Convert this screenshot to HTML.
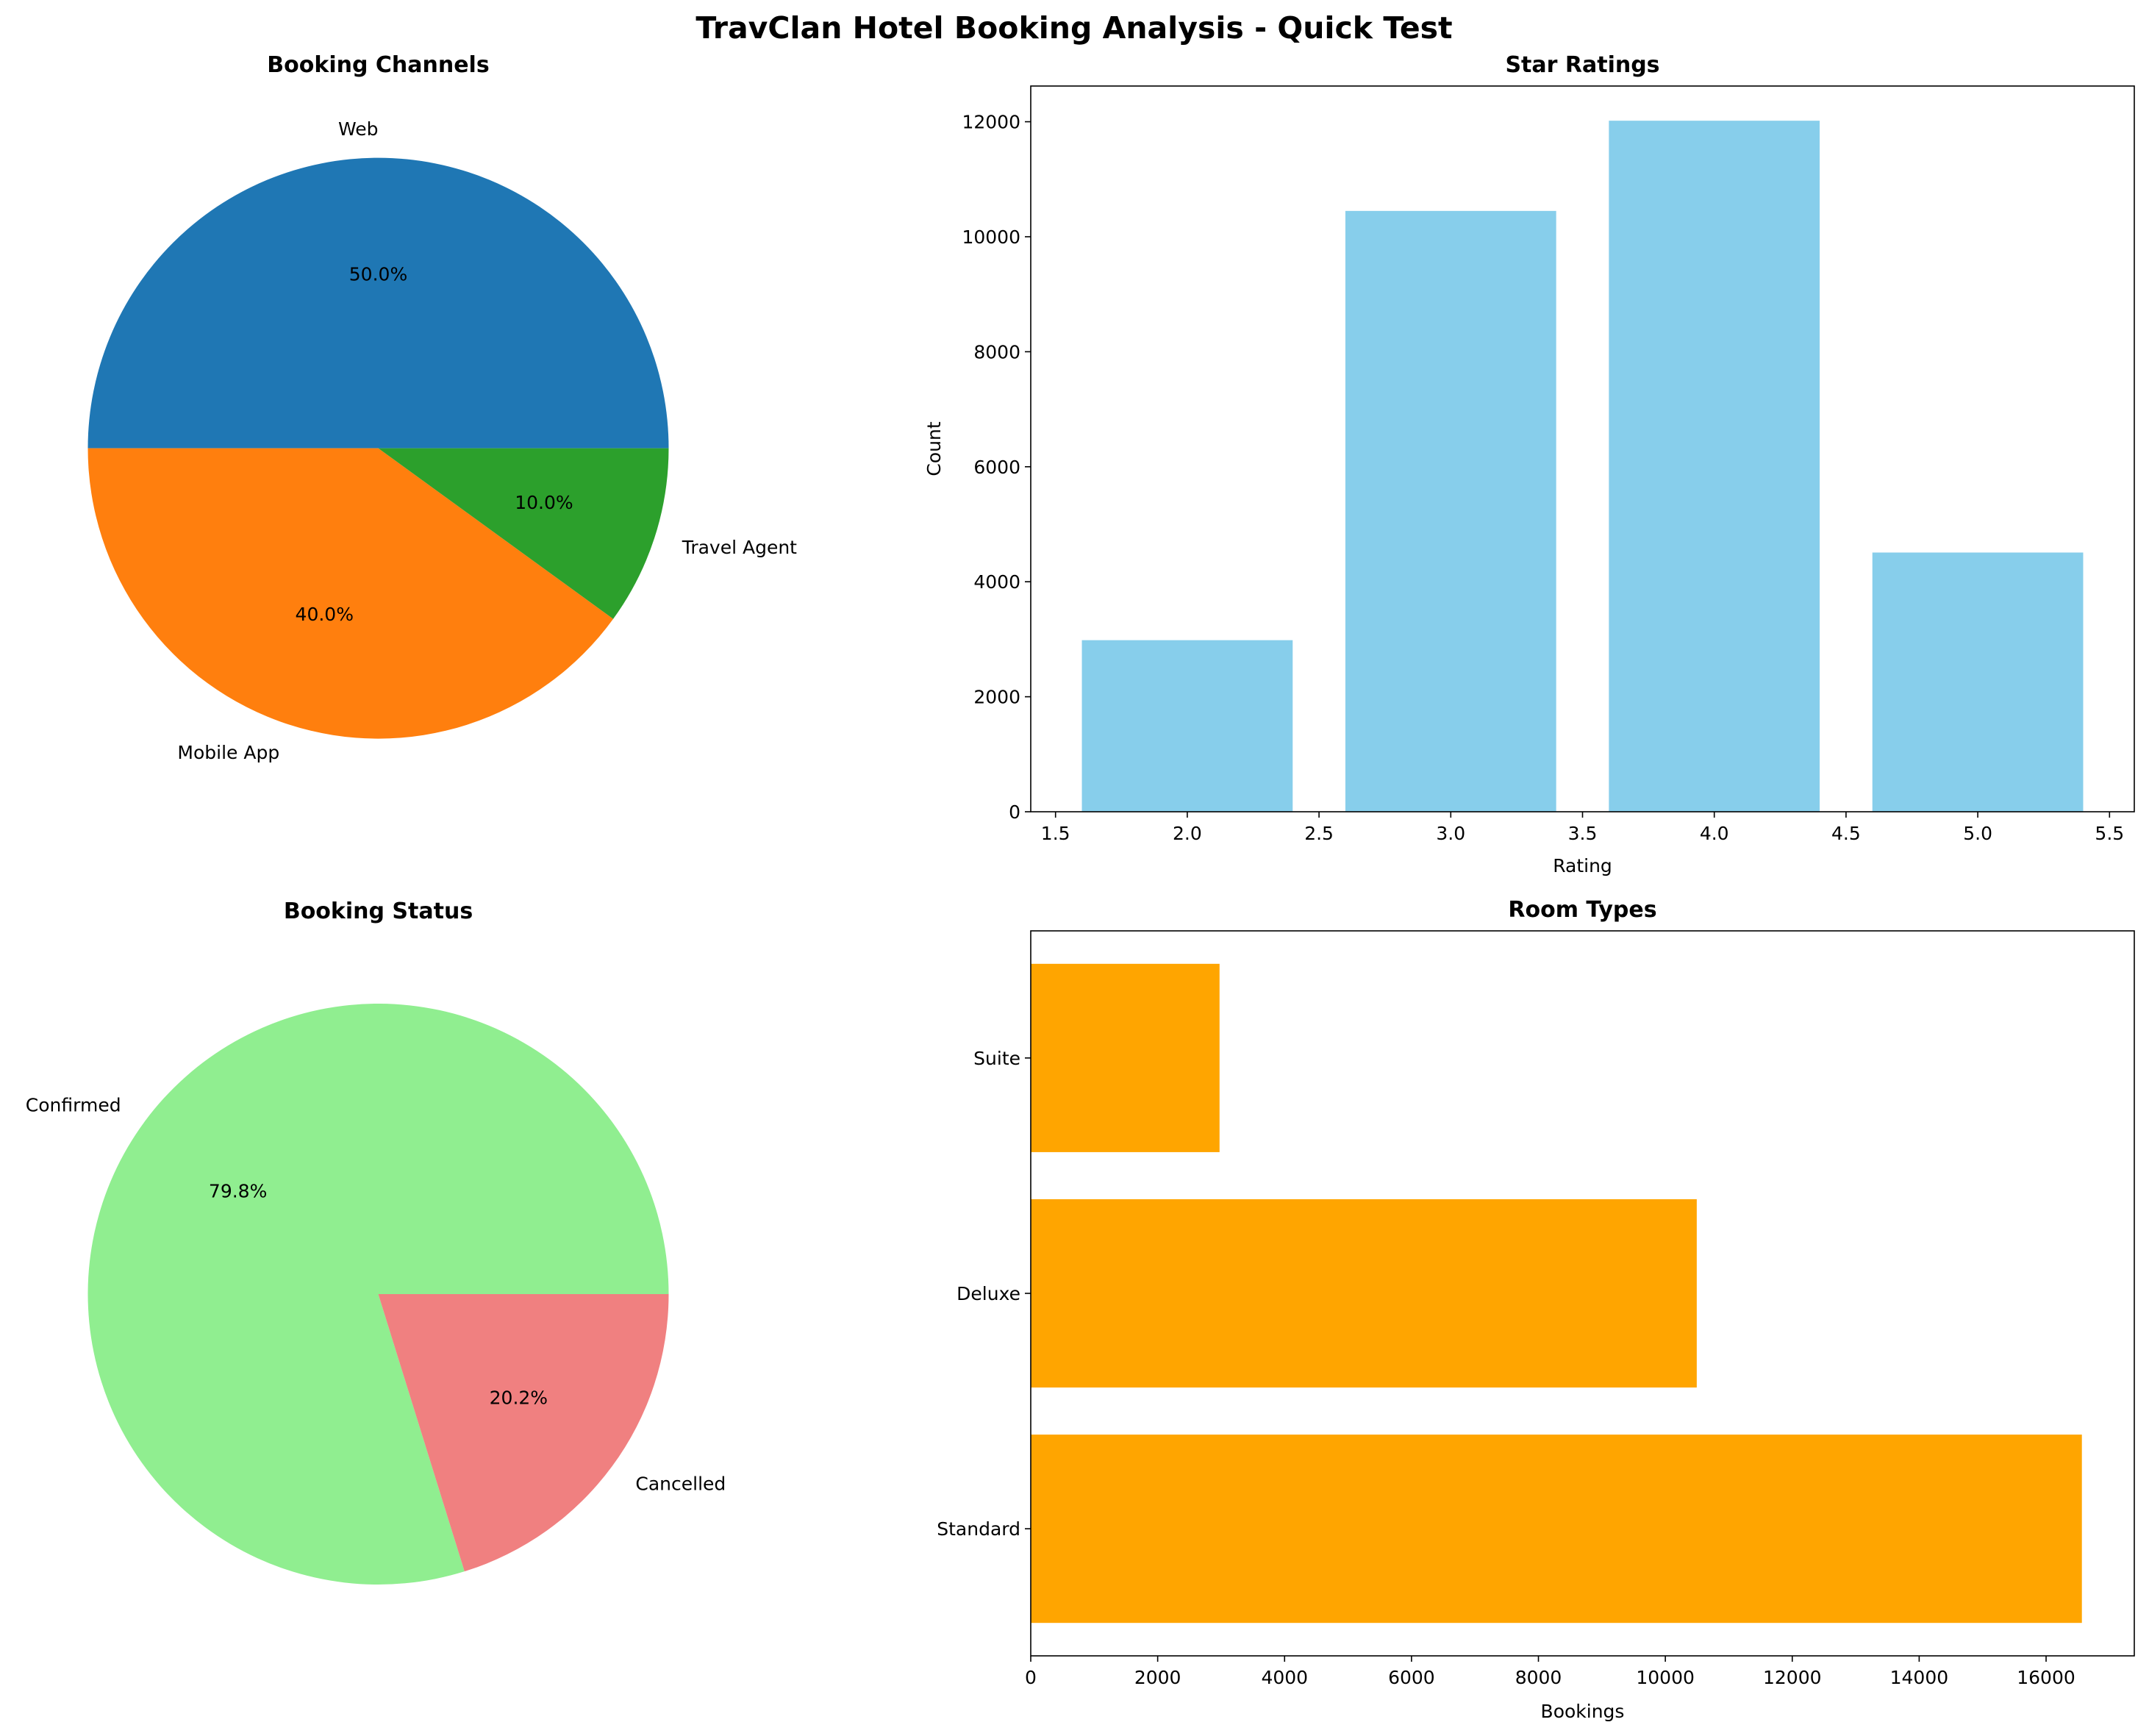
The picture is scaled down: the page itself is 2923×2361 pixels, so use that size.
<!DOCTYPE html>
<html><head><meta charset="utf-8"><style>
html,body{margin:0;padding:0;background:#fff}
svg{display:block;font-family:"DejaVu Sans","Liberation Sans",sans-serif}
</style></head><body>
<svg id="fig" width="2923" height="2361" viewBox="0 0 2923 2361">
<rect width="2923" height="2361" fill="#fff"/>
<text x="1461" y="52" text-anchor="middle" font-size="41" font-weight="bold">TravClan Hotel Booking Analysis - Quick Test</text>
<g id="pie1"></g>
<g id="pie2"></g>
<g id="bars1"></g>
<g id="bars2"></g>
</svg>
<script>
const channelLabels = ["Web", "Mobile App", "Travel Agent"];
const channelValues = [50, 40, 10];
const channelColors = ["#1f77b4", "#ff7f0e", "#2ca02c"];
const statusLabels = ["Confirmed", "Cancelled"];
const statusValues = [79.8, 20.2];
const statusColors = ["#90ee90", "#f08080"];
const ratingCats = [2, 3, 4, 5];
const ratingCounts = [2984, 10449, 12018, 4508];
const ratingYTicks = [0, 2000, 4000, 6000, 8000, 10000, 12000];
const ratingXTicks = [1.5, 2.0, 2.5, 3.0, 3.5, 4.0, 4.5, 5.0, 5.5];
const roomCats = ["Standard", "Deluxe", "Suite"];
const roomCounts = [16564, 10495, 2975];
const roomXTicks = [0, 2000, 4000, 6000, 8000, 10000, 12000, 14000, 16000];

const NS = "http://www.w3.org/2000/svg";
function mk(parent, tag, attrs, text) {
  const e = document.createElementNS(NS, tag);
  for (const k in attrs) e.setAttribute(k, attrs[k]);
  if (text !== undefined) e.textContent = text;
  parent.appendChild(e);
  return e;
}
const FS = 25;

function drawPie(gid, title, labels, values, colors, cx, cy, r, titleY) {
  const g = document.getElementById(gid);
  const t = mk(g, "text", {x: cx, y: titleY, "text-anchor": "middle", "font-size": 30, "font-weight": "bold"}, title);
  
  
  const total = values.reduce((a, b) => a + b, 0);
  let a0 = 0;
  values.forEach((v, i) => {
    const a1 = a0 + v / total * 2 * Math.PI;
    const x0 = cx + r * Math.cos(a0), y0 = cy - r * Math.sin(a0);
    const x1 = cx + r * Math.cos(a1), y1 = cy - r * Math.sin(a1);
    const large = (a1 - a0) > Math.PI ? 1 : 0;
    const p = mk(g, "path", {d: `M${cx},${cy} L${x0},${y0} A${r},${r} 0 ${large} 0 ${x1},${y1} Z`, fill: colors[i]});
    
    
    const am = (a0 + a1) / 2;
    const lx = cx + 1.1 * r * Math.cos(am), ly = cy - 1.1 * r * Math.sin(am);
    const anchor = Math.cos(am) > 1e-9 ? "start" : "end";
    const lt = mk(g, "text", {x: lx, y: ly + 9, "text-anchor": Math.abs(Math.cos(am)) < 1e-6 ? "end" : anchor, "font-size": FS}, labels[i]);
    
    
    const px = cx + 0.6 * r * Math.cos(am), py = cy - 0.6 * r * Math.sin(am);
    const pt = mk(g, "text", {x: px, y: py + 9, "text-anchor": "middle", "font-size": FS}, (v / total * 100).toFixed(1) + "%");
    
    
    a0 = a1;
  });
}
drawPie("pie1", "Booking Channels", channelLabels, channelValues, channelColors, 514.5, 609.6, 395, 98);
drawPie("pie2", "Booking Status", statusLabels, statusValues, statusColors, 514.5, 1760, 395, 1249);

// Star ratings bar chart
(function () {
  const g = document.getElementById("bars1");
  const L = 1402, R = 2903, T = 117, B = 1104;
  const xmin = 1.406, xmax = 5.594, ymax = 12621;
  const sx = v => L + (v - xmin) / (xmax - xmin) * (R - L);
  const sy = v => B - v / ymax * (B - T);
  ratingCats.forEach((c, i) => {
    const r = mk(g, "rect", {x: sx(c - 0.4), y: sy(ratingCounts[i]), width: sx(c + 0.4) - sx(c - 0.4), height: B - sy(ratingCounts[i]), fill: "#87ceeb"});
    
    
  });
  ratingYTicks.forEach(v => {
    mk(g, "line", {x1: L - 8, x2: L, y1: sy(v), y2: sy(v), stroke: "#000", "stroke-width": 1.6});
    const t = mk(g, "text", {x: L - 14, y: sy(v) + 9, "text-anchor": "end", "font-size": FS}, String(v));
    
    
  });
  ratingXTicks.forEach(v => {
    mk(g, "line", {x1: sx(v), x2: sx(v), y1: B, y2: B + 8, stroke: "#000", "stroke-width": 1.6});
    const t = mk(g, "text", {x: sx(v), y: B + 38, "text-anchor": "middle", "font-size": FS}, v.toFixed(1));
    
    
  });
  mk(g, "rect", {x: L, y: T, width: R - L, height: B - T, fill: "none", stroke: "#000", "stroke-width": 1.6});
  const tt = mk(g, "text", {x: (L + R) / 2, y: T - 19, "text-anchor": "middle", "font-size": 30, "font-weight": "bold"}, "Star Ratings");
  
  
  const xl = mk(g, "text", {x: (L + R) / 2, y: 1186, "text-anchor": "middle", "font-size": FS}, "Rating");
  
  
  const yl = mk(g, "text", {x: 0, y: 0, "text-anchor": "middle", "font-size": FS, transform: `translate(1279,${(T + B) / 2}) rotate(-90)`}, "Count");
  
  
})();

// Room types horizontal bars
(function () {
  const g = document.getElementById("bars2");
  const L = 1402, R = 2903, T = 1266, B = 2252;
  const xmax = 17390, ymin = -0.54, ymax = 2.54;
  const sx = v => L + v / xmax * (R - L);
  const sy = v => B - (v - ymin) / (ymax - ymin) * (B - T);
  roomCats.forEach((c, i) => {
    const r = mk(g, "rect", {x: L, y: sy(i + 0.4), width: sx(roomCounts[i]) - L, height: sy(i - 0.4) - sy(i + 0.4), fill: "#ffa500"});
    
    
    mk(g, "line", {x1: L - 8, x2: L, y1: sy(i), y2: sy(i), stroke: "#000", "stroke-width": 1.6});
    const t = mk(g, "text", {x: L - 14, y: sy(i) + 9, "text-anchor": "end", "font-size": FS}, c);
    
    
  });
  roomXTicks.forEach(v => {
    mk(g, "line", {x1: sx(v), x2: sx(v), y1: B, y2: B + 8, stroke: "#000", "stroke-width": 1.6});
    const t = mk(g, "text", {x: sx(v), y: B + 38, "text-anchor": "middle", "font-size": FS}, String(v));
    
    
  });
  mk(g, "rect", {x: L, y: T, width: R - L, height: B - T, fill: "none", stroke: "#000", "stroke-width": 1.6});
  const tt = mk(g, "text", {x: (L + R) / 2, y: T - 19, "text-anchor": "middle", "font-size": 30, "font-weight": "bold"}, "Room Types");
  
  
  const xl = mk(g, "text", {x: (L + R) / 2, y: 2336, "text-anchor": "middle", "font-size": FS}, "Bookings");
  
  
})();
</script>
</body></html>
